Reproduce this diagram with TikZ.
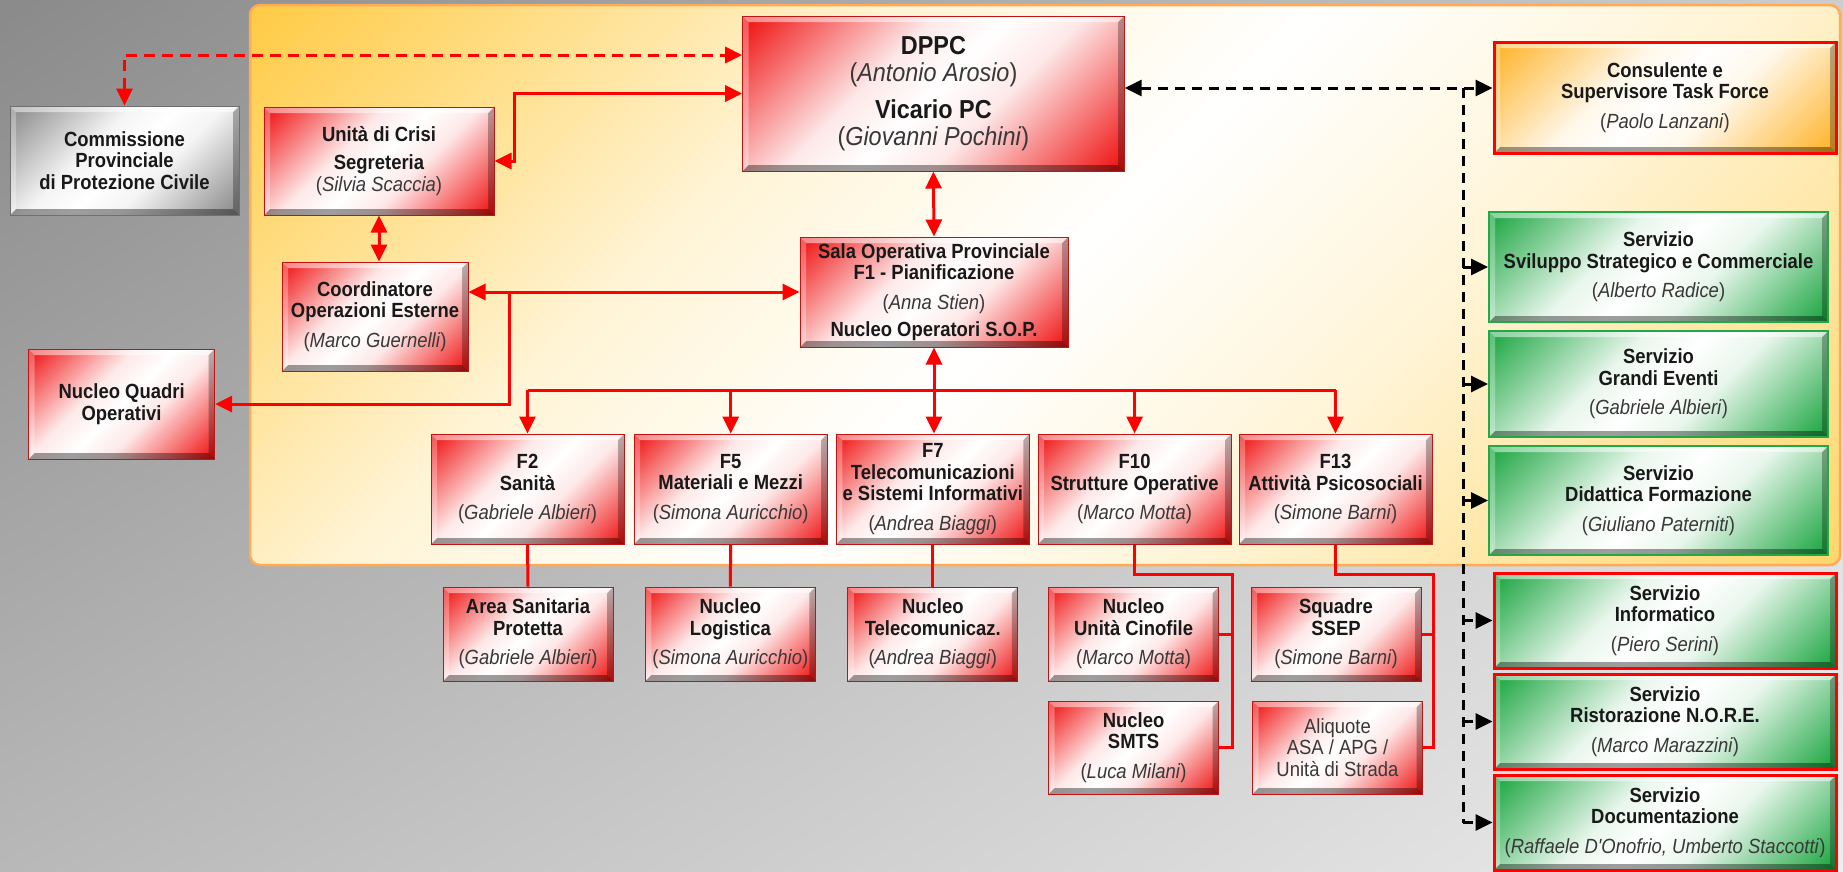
\documentclass[tikz,border=0pt]{standalone}
\usepackage{fontspec}
\setmainfont{Liberation Sans}
\newfontfamily\boxfamily[FakeStretch=0.9]{Liberation Sans}
\usetikzlibrary{arrows.meta,shadings}

\definecolor{bgtl}{HTML}{8A8A8A}
\definecolor{bgtr}{HTML}{CDCDCD}
\definecolor{bgbl}{HTML}{B8B8B8}
\definecolor{bgbr}{HTML}{EDEDED}
\definecolor{panelleft}{HTML}{FFC632}
\definecolor{panelright}{HTML}{FFD35E}
\definecolor{panelcream}{HTML}{FFF4D6}
\definecolor{panelrim}{HTML}{FFAA55}
\definecolor{boxred}{HTML}{F01818}
\definecolor{boxgreen}{HTML}{22A846}
\definecolor{boxgray}{HTML}{8C8C8C}
\definecolor{boxorange}{HTML}{FFB52E}
\definecolor{linkred}{HTML}{FF0000}
\definecolor{namegray}{HTML}{383838}

\newcommand\bevelshading[2]{%
  \pgfdeclareverticalshading{#1}{100bp}{color(0bp)=(#2); color(16bp)=(#2);
    color(40bp)=(#2!10!white); color(50bp)=(white); color(60bp)=(#2!10!white);
    color(84bp)=(#2); color(100bp)=(#2)}}
\bevelshading{redfill}{boxred}
\bevelshading{greenfill}{boxgreen}
\bevelshading{grayfill}{boxgray}
\bevelshading{orangefill}{boxorange}
\pgfdeclareverticalshading{panelfill}{100bp}{color(0bp)=(panelright); color(12bp)=(panelright);
  color(36bp)=(panelcream); color(50bp)=(white); color(64bp)=(panelcream);
  color(88bp)=(panelleft); color(100bp)=(panelleft)}

\newcommand\boxfont{\boxfamily\fontsize{20.5}{21.5}\selectfont\bfseries}
\newcommand\bigboxfont{\boxfamily\fontsize{26}{27}\selectfont\bfseries}
\newcommand\who[1]{{\mdseries\color{namegray}(\textit{#1})}}

\tikzset{
  bevel/.style={path picture={
      \path (path picture bounding box.south west) coordinate (bsw)
            (path picture bounding box.south east) coordinate (bse)
            (path picture bounding box.north east) coordinate (bne)
            (path picture bounding box.north west) coordinate (bnw);
      \fill[black, opacity=.38] (bsw) -- (bse) -- ([shift={(-6pt,6pt)}]bse) -- ([shift={(6pt,6pt)}]bsw) -- cycle;
      \fill[black, opacity=.28] (bse) -- (bne) -- ([shift={(-6pt,-6pt)}]bne) -- ([shift={(-6pt,6pt)}]bse) -- cycle;
      \fill[white, opacity=.5] (bnw) -- (bne) -- ([shift={(-6pt,-6pt)}]bne) -- ([shift={(6pt,-6pt)}]bnw) -- cycle;
      \fill[white, opacity=.3] (bsw) -- (bnw) -- ([shift={(6pt,-6pt)}]bnw) -- ([shift={(6pt,6pt)}]bsw) -- cycle;
    }},
  box/.style={rectangle, align=center, inner sep=1pt, font=\boxfont, text=black!90,
    shade, shading angle=45, line width=1pt, bevel},
  redbox/.style={box, shading=redfill, draw=boxred!80!black},
  graybox/.style={box, shading=grayfill, draw=boxgray!80!black},
  greenbox/.style={box, shading=greenfill, draw=boxgreen, line width=2pt},
  orangebox/.style={box, shading=orangefill, draw=linkred, line width=3pt},
  redrim/.style={draw=linkred, line width=3pt},
  fbox/.style={redbox, minimum width=193pt, minimum height=110pt},
  subbox/.style={redbox, minimum width=170pt, minimum height=94pt},
  link/.style={draw=linkred, line width=3pt},
  reddash/.style={link, dash pattern=on 11pt off 7pt},
  blackdash/.style={draw=black, line width=3pt, dash pattern=on 10pt off 7pt},
}

\begin{document}
\begin{tikzpicture}[x=1pt, y=-1pt, >={Triangle[length=17pt, width=16pt]}]
  \useasboundingbox (0,0) rectangle (1843,871);
  \shade[upper left=bgtl, upper right=bgtr, lower left=bgbl, lower right=bgbr] (0,0) rectangle (1843,871);
  \shadedraw[draw=panelrim, line width=2.5pt, rounded corners=10pt, shading=panelfill, shading angle=45]
    (250,5) rectangle (1840,565);

  % left side and top
  \node[graybox, minimum width=229pt, minimum height=109pt] (comm) at (124.5,160.5) {Commissione\\Provinciale\\di Protezione Civile};
  \node[redbox, minimum width=230pt, minimum height=108pt] (unita) at (379,161) {Unità di Crisi\\[7pt]Segreteria\\\who{Silvia Scaccia}};
  \node[redbox, minimum width=186pt, minimum height=109pt] (coord) at (375,316.5) {Coordinatore\\Operazioni Esterne\\[8pt]\who{Marco Guernelli}};
  \node[redbox, minimum width=186pt, minimum height=110pt] (nqo) at (121.6,404) {Nucleo Quadri\\Operativi};
  \node[redbox, font=\bigboxfont, minimum width=381.5pt, minimum height=155pt] (dppc) at (933.4,93.5) {DPPC\\\who{Antonio Arosio}\\[10pt]Vicario PC\\\who{Giovanni Pochini}};
  \node[redbox, minimum width=268pt, minimum height=110pt] (sala) at (934,292) {Sala Operativa Provinciale\\F1 - Pianificazione\\[8pt]\who{Anna Stien}\\[6pt]Nucleo Operatori S.O.P.};

  % funzioni
  \node[fbox] (f2) at (527.5,489) {F2\\Sanità\\[8pt]\who{Gabriele Albieri}};
  \node[fbox] (f5) at (730.7,489) {F5\\Materiali e Mezzi\\[8pt]\who{Simona Auricchio}};
  \node[fbox] (f7) at (932.8,489) {F7\\Telecomunicazioni\\e Sistemi Informativi\\[8pt]\who{Andrea Biaggi}};
  \node[fbox] (f10) at (1134.6,489) {F10\\Strutture Operative\\[8pt]\who{Marco Motta}};
  \node[fbox] (f13) at (1335.5,489) {F13\\Attività Psicosociali\\[8pt]\who{Simone Barni}};

  % nuclei
  \node[subbox] (area) at (528,634) {Area Sanitaria\\Protetta\\[8pt]\who{Gabriele Albieri}};
  \node[subbox] (logi) at (730.3,634) {Nucleo\\Logistica\\[8pt]\who{Simona Auricchio}};
  \node[subbox] (tlc) at (932.8,634) {Nucleo\\Telecomunicaz.\\[8pt]\who{Andrea Biaggi}};
  \node[subbox] (cino) at (1133.6,634) {Nucleo\\Unità Cinofile\\[8pt]\who{Marco Motta}};
  \node[subbox, minimum height=93pt] (smts) at (1133.6,747.5) {Nucleo\\SMTS\\[8pt]\who{Luca Milani}};
  \node[subbox] (ssep) at (1336,634) {Squadre\\SSEP\\[8pt]\who{Simone Barni}};
  \node[subbox, minimum height=93pt, font=\boxfont\mdseries, text=namegray] (aliq) at (1337.5,747.5) {Aliquote\\ASA / APG /\\Unità di Strada};

  % servizi
  \node[orangebox, minimum width=342pt, minimum height=111pt] (consul) at (1665,97.5) {Consulente e\\Supervisore Task Force\\[8pt]\who{Paolo Lanzani}};
  \node[greenbox, minimum width=339pt, minimum height=110pt] (svil) at (1658.5,267) {Servizio\\Sviluppo Strategico e Commerciale\\[8pt]\who{Alberto Radice}};
  \node[greenbox, minimum width=339pt, minimum height=106pt] (grandi) at (1658.5,384) {Servizio\\Grandi Eventi\\[8pt]\who{Gabriele Albieri}};
  \node[greenbox, minimum width=339pt, minimum height=109pt] (didat) at (1658.5,500.5) {Servizio\\Didattica Formazione\\[8pt]\who{Giuliano Paterniti}};
  \node[greenbox, redrim, minimum width=342pt, minimum height=95pt] (inform) at (1665,620.5) {Servizio\\Informatico\\[8pt]\who{Piero Serini}};
  \node[greenbox, redrim, minimum width=342pt, minimum height=95pt] (ristor) at (1665,721.5) {Servizio\\Ristorazione N.O.R.E.\\[8pt]\who{Marco Marazzini}};
  \node[greenbox, redrim, minimum width=342pt, minimum height=95pt] (docum) at (1665,822.5) {Servizio\\Documentazione\\[8pt]\who{Raffaele D'Onofrio, Umberto Staccotti}};

  % collegamenti
  \draw[reddash, <->] (comm.north) |- ([yshift=38.5pt]dppc.west);
  \draw[link, <->] (dppc.west) -| ([xshift=20pt]unita.east) -- (unita.east);
  \draw[link, <->] (unita.south) -- (unita.south |- coord.north);
  \draw[link, <->] (dppc.south) -- (sala.north);
  \draw[link, <->] (sala.west) -- (sala.west -| coord.east);
  \coordinate (jn) at (509,292);
  \draw[link, ->] (jn) |- (nqo.east);

  \coordinate (bus) at (0,390);
  \draw[link] (f2.north |- bus) -- (f13.north |- bus);
  \draw[link, <->] (sala.south) -- (sala.south |- f7.north);
  \foreach \f in {f2,f5,f10,f13}
    \draw[link, ->] (\f.north |- bus) -- (\f.north);

  \draw[link] (f2.south) -- (area.north);
  \draw[link] (f5.south) -- (logi.north);
  \draw[link] (f7.south) -- (tlc.north);
  \draw[link] (f10.south) -- ++(0,30) -| ([xshift=13pt]smts.east) -- (smts.east);
  \draw[link] ([xshift=13pt]cino.east) -- (cino.east);
  \draw[link] (f13.south) -- ++(0,30) -| ([xshift=10pt]aliq.east) -- (aliq.east);
  \draw[link] ([xshift=12pt]ssep.east) -- (ssep.east);

  \coordinate (trunk) at (1463,88);
  \draw[blackdash, <->] (dppc.east |- trunk) -- (consul.west |- trunk);
  \draw[blackdash] (trunk) -- (trunk |- docum.west);
  \foreach \s in {svil,grandi,didat,inform,ristor,docum}
    \draw[blackdash, ->] (trunk |- \s.west) -- (\s.west);
\end{tikzpicture}
\end{document}
